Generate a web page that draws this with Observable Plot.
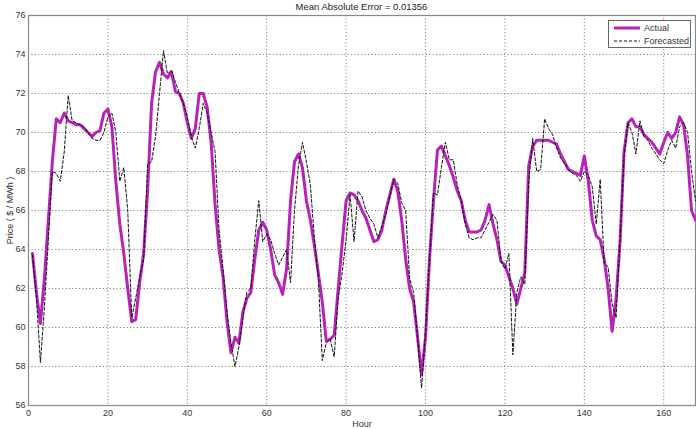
<!DOCTYPE html>
<html>
<head>
<meta charset="utf-8">
<script src="https://cdn.jsdelivr.net/npm/d3@7"></script>
<script src="https://cdn.jsdelivr.net/npm/@observablehq/plot@0.6"></script>
<style>
  body { margin: 0; background: #fff; font-family: "Liberation Sans", Arial, sans-serif; }
  #wrap { position: relative; width: 696px; height: 429px; overflow: hidden; }
  #title { position: absolute; left: 0; top: 0; height: 14px; line-height: 14px; font-size: 9.5px; color: #222; text-align: center;
           padding-left: 28px; padding-right: 1px; box-sizing: border-box; width: 696px; z-index: 2; }
  #chart { position: absolute; left: 0; top: 0; }
  #legend { position: absolute; left: 608px; top: 20px; width: 83px; height: 28px; box-sizing: border-box;
            border: 1px solid #666; background: #fff; font-size: 9px; color: #333; z-index: 2; }
  .row { position: absolute; left: 4px; height: 12px; line-height: 12px; }
  .row svg { position: absolute; left: 0; top: 0; }
  .row span { position: absolute; left: 31px; white-space: nowrap; }
</style>
</head>
<body>
<div id="wrap">
  <div id="chart"></div>
  <div id="title">Mean Absolute Error = 0.01356</div>
  <div id="legend">
    <div class="row" style="top:1px"><svg width="28" height="12"><line x1="1" x2="27" y1="6" y2="6" stroke="#b523b8" stroke-width="3"/></svg><span>Actual</span></div>
    <div class="row" style="top:14px"><svg width="28" height="12"><line x1="1" x2="27" y1="6" y2="6" stroke="#111" stroke-width="1" stroke-dasharray="3,2"/></svg><span>Forecasted</span></div>
  </div>
</div>
<script>
const seriesNames = ["Actual", "Forecasted"];
const xTicks = [0, 20, 40, 60, 80, 100, 120, 140, 160];
const yTicks = [56, 58, 60, 62, 64, 66, 68, 70, 72, 74, 76];
const actual = [
  63.8, 61.8, 60.2, 62.5, 65.5, 68.5, 70.7, 70.5, 71.0, 70.6,
  70.5, 70.4, 70.4, 70.2, 70.0, 69.8, 70.0, 70.1, 71.0, 71.2,
  70.3, 67.5, 65.3, 63.8, 62.0, 60.3, 60.4, 62.3, 63.8, 67.0,
  71.5, 73.1, 73.6, 73.0, 72.8, 73.1, 72.1, 72.0, 71.5, 70.5,
  69.7, 70.2, 72.0, 72.0, 71.3, 69.5, 66.3, 64.0, 62.6, 60.3,
  58.7, 59.5, 59.2, 60.8, 61.5, 61.8, 63.5, 65.0, 65.4, 65.0,
  64.0, 62.7, 62.3, 61.7, 63.0, 66.5, 68.5, 68.9, 68.2, 66.5,
  65.5, 64.2, 62.8, 61.3, 59.3, 59.4, 59.6, 62.0, 64.3, 66.5,
  66.9, 66.8, 66.5, 66.0, 65.6, 65.0, 64.4, 64.5, 65.0, 66.0,
  66.8, 67.6, 67.0, 65.5, 63.5, 62.0, 61.3, 59.5, 57.6, 59.5,
  63.5, 66.5, 69.1, 69.3, 68.8, 68.3, 67.7, 67.0, 66.5, 65.5,
  64.9, 64.9, 64.9, 65.0, 65.5, 66.3, 65.3, 64.5, 63.4, 63.2,
  62.6, 62.0, 61.2, 62.0, 62.8, 68.3, 69.3, 69.6, 69.6, 69.6,
  69.6, 69.5, 69.4, 68.9, 68.5, 68.1, 68.0, 67.9, 67.8, 68.8,
  67.5, 65.5, 64.7, 64.5, 63.5, 62.0, 59.8, 61.5, 64.4, 69.0,
  70.5, 70.7, 70.3, 70.3, 69.9, 69.7, 69.5, 69.2, 68.9, 69.5,
  70.0, 69.7, 70.0, 70.8, 70.4, 68.8, 66.0, 65.5
];
const forecasted = [
  63.7, 61.5, 58.2, 61.0, 64.5, 68.0, 67.9, 67.5, 69.0, 71.9,
  70.6, 70.5, 70.4, 70.3, 70.0, 69.7, 69.6, 69.6, 70.0, 70.8,
  71.0, 70.0, 67.5, 68.2, 66.0, 60.5, 61.5, 62.6, 63.5, 68.4,
  68.5, 69.8, 72.0, 74.2, 73.0, 73.2, 72.6, 72.0, 71.5, 70.8,
  69.8, 69.2, 70.2, 71.5, 71.0, 70.0, 69.0, 65.0, 63.0, 60.8,
  59.2, 58.0, 59.0, 60.5, 61.8, 62.0, 64.5, 66.5, 64.4, 64.8,
  64.5, 63.8, 63.2, 63.6, 64.0, 62.3, 66.0, 68.3, 69.5, 68.5,
  67.3, 64.6, 62.5, 58.3, 59.2, 59.4, 58.5, 61.5, 62.8, 64.5,
  66.8, 64.4, 67.0, 66.7, 66.0, 65.6, 65.3, 64.6, 65.2, 65.8,
  66.7, 67.6, 67.4, 66.4, 66.0, 62.5, 61.8, 59.5, 56.9, 59.8,
  63.5, 66.9, 66.8, 68.2, 69.5, 68.6, 68.6, 67.3, 66.5, 65.3,
  64.6, 64.5, 64.6, 64.6, 65.0, 65.4, 65.8, 65.5, 63.4, 63.0,
  63.8, 58.6, 61.8, 62.6, 62.2, 67.5, 69.7, 68.0, 68.1, 70.7,
  70.2, 69.9, 69.2, 68.7, 68.4, 68.1, 67.9, 67.8, 67.5, 68.0,
  67.8, 67.2, 65.3, 67.6, 63.3, 63.1, 61.2, 60.5, 64.5, 68.8,
  70.5, 70.0, 68.9, 70.6, 69.8, 69.6, 69.2, 68.9, 68.6, 68.4,
  69.1, 69.6, 69.2, 70.3, 70.5, 70.0, 68.0, 66.5
];

const rows = [];
actual.forEach((v, i) => rows.push({hour: i + 1, price: v, series: seriesNames[0]}));
forecasted.forEach((v, i) => rows.push({hour: i + 1, price: v, series: seriesNames[1]}));

const chart = Plot.plot({
  width: 696,
  height: 429,
  marginLeft: 28,
  marginRight: 1,
  marginTop: 15,
  marginBottom: 24,
  style: {fontFamily: "Liberation Sans, Arial, sans-serif", fontSize: "9px", color: "#333", background: "transparent"},
  x: {domain: [0, 168], ticks: xTicks, tickSize: 0, tickPadding: 4, label: "Hour", labelAnchor: "center", labelOffset: 21, labelArrow: "none"},
  y: {domain: [56, 76], ticks: yTicks, tickSize: 0, tickPadding: 3, label: "Price ( $ / MWh )", labelAnchor: "center", labelOffset: 22, labelArrow: "none"},
  marks: [
    Plot.gridX(xTicks, {stroke: "#777", strokeOpacity: 0.9, strokeDasharray: "1.2,2.2"}),
    Plot.gridY(yTicks, {stroke: "#777", strokeOpacity: 0.9, strokeDasharray: "1.2,2.2"}),
    Plot.frame({stroke: "#888", strokeWidth: 1.2}),
    Plot.line(rows.filter(d => d.series === seriesNames[0]), {x: "hour", y: "price", stroke: "#b523b8", strokeWidth: 3, strokeLinejoin: "round"}),
    Plot.line(rows.filter(d => d.series === seriesNames[1]), {x: "hour", y: "price", stroke: "#111", strokeWidth: 1, strokeDasharray: "3,2"})
  ]
});
document.getElementById("chart").appendChild(chart);
</script>
</body>
</html>
